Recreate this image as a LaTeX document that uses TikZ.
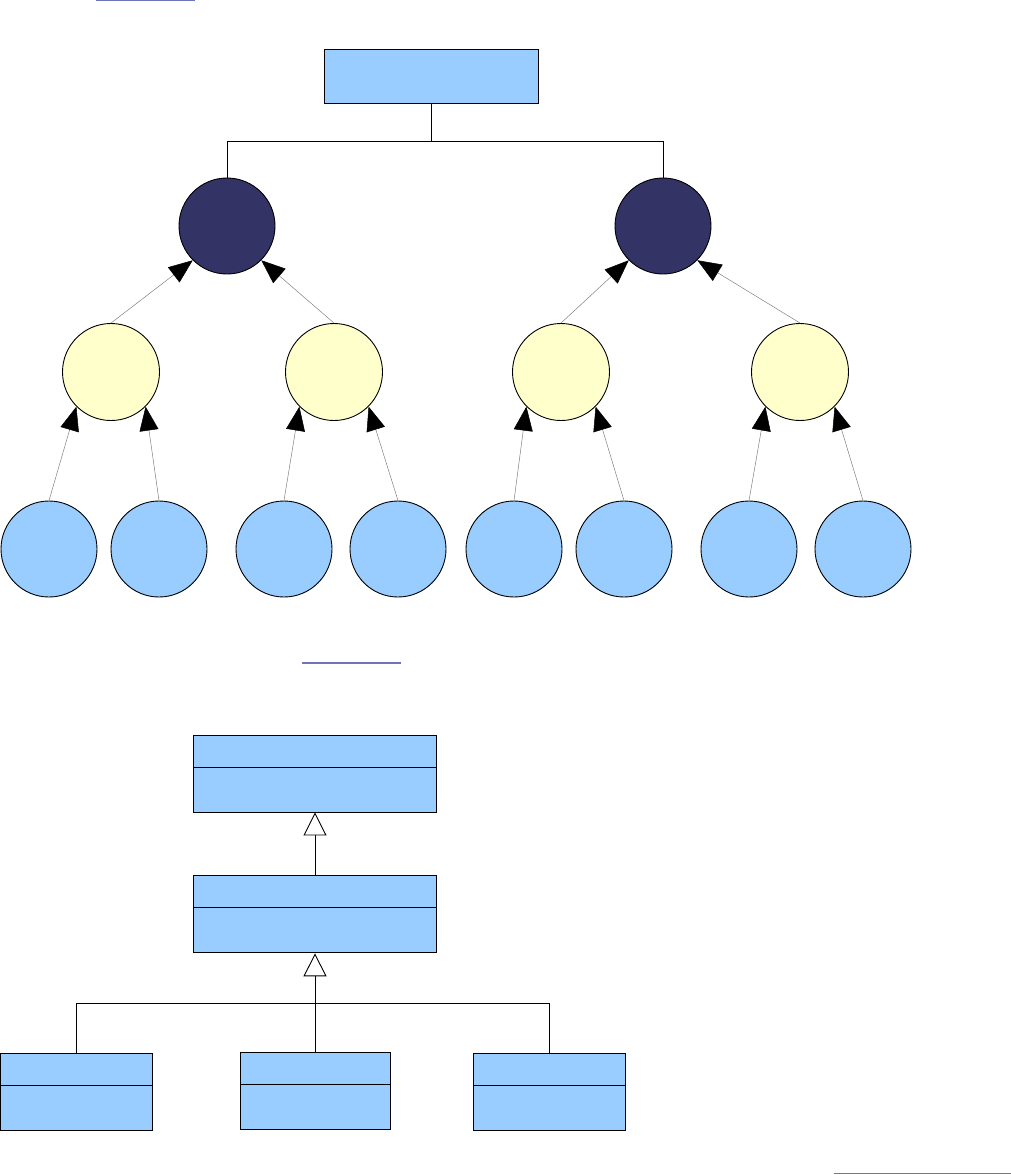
\documentclass[tikz,border=0pt]{standalone}
\usepackage{xcolor}
\usepackage{tikz}
\usetikzlibrary{arrows.meta,positioning}

\definecolor{boxblue}{HTML}{99CCFF}
\definecolor{navy}{HTML}{333366}
\definecolor{paleyellow}{HTML}{FFFFCC}
\definecolor{linkblue}{RGB}{108,116,186}

\begin{document}
\begin{tikzpicture}[
  x=1pt, y=-1pt,
  every node/.style={inner sep=0pt, line width=0.9pt},
  rootbox/.style={rectangle, draw, fill=boxblue, minimum width=214pt,
                  minimum height=54pt},
  navynode/.style={circle, draw, fill=navy, minimum size=96pt},
  yellownode/.style={circle, draw, fill=paleyellow, minimum size=97pt},
  leafnode/.style={circle, draw, fill=boxblue, minimum size=96pt},
  cls/.style={rectangle, draw, fill=boxblue, minimum height=77pt,
              path picture={\draw[line width=0.9pt]
                ([yshift=-32pt]path picture bounding box.north west) --
                ([yshift=-32pt]path picture bounding box.north east);}},
  tree/.style={line width=0.9pt},
  arr/.style={-{Triangle[length=24pt, width=19pt, color=black]},
              gray, line width=0.5pt},
  inh/.style={-{Triangle[open, length=23pt, width=23pt, fill=white]},
              line width=0.9pt},
  link/.style={linkblue, line width=1.2pt},
]
\useasboundingbox (0,0) rectangle (1011,1175);

% object tree
\node[rootbox]    (root) at (431,76)  {};
\node[navynode]   (d1)   at (227,226) {};
\node[navynode]   (d2)   at (663,226) {};
\node[yellownode] (m1)   at (111,372) {};
\node[yellownode] (m2)   at (334,372) {};
\node[yellownode] (m3)   at (561,372) {};
\node[yellownode] (m4)   at (800,372) {};
\node[leafnode]   (l1)   at (49,549)  {};
\node[leafnode]   (l2)   at (159,549) {};
\node[leafnode]   (l3)   at (284,549) {};
\node[leafnode]   (l4)   at (398,549) {};
\node[leafnode]   (l5)   at (514,549) {};
\node[leafnode]   (l6)   at (624,549) {};
\node[leafnode]   (l7)   at (749,549) {};
\node[leafnode]   (l8)   at (863,549) {};

\coordinate (split) at (431,141);
\draw[tree] (root.south) -- (split) -| (d1.north);
\draw[tree] (split) -| (d2.north);

\draw[arr] (m1.north) -- (d1.south west);
\draw[arr] (m2.north) -- (d1.south east);
\draw[arr] (m3.north) -- (d2.south west);
\draw[arr] (m4.north) -- (d2.south east);
\draw[arr] (l1.north) -- (m1.south west);
\draw[arr] (l2.north) -- (m1.south east);
\draw[arr] (l3.north) -- (m2.south west);
\draw[arr] (l4.north) -- (m2.south east);
\draw[arr] (l5.north) -- (m3.south west);
\draw[arr] (l6.north) -- (m3.south east);
\draw[arr] (l7.north) -- (m4.south west);
\draw[arr] (l8.north) -- (m4.south east);

% class hierarchy
\node[cls, minimum width=243pt] (topcls) at (315,773.5) {};
\node[cls, minimum width=243pt, below=63pt of topcls] (basecls) {};
\node[cls, minimum width=152pt] (subA) at (76.5,1092) {};
\node[cls, minimum width=150pt] (subB) at (315,1091) {};
\node[cls, minimum width=152pt] (subC) at (549,1092) {};

\coordinate (fork) at (315,1003);
\draw[tree] (subA.north) |- (fork) -| (subC.north);
\draw[tree] (subB.north) -- (fork);
\draw[inh] (fork) -- (basecls.south);
\draw[inh] (basecls.north) -- (topcls.south);

% link underlines
\draw[link] (96,0.6) -- (195,0.6);
\draw[link] (302,663) -- (401,663);
\draw[link] (834,1173.5) -- (1011,1173.5);
\end{tikzpicture}
\end{document}
